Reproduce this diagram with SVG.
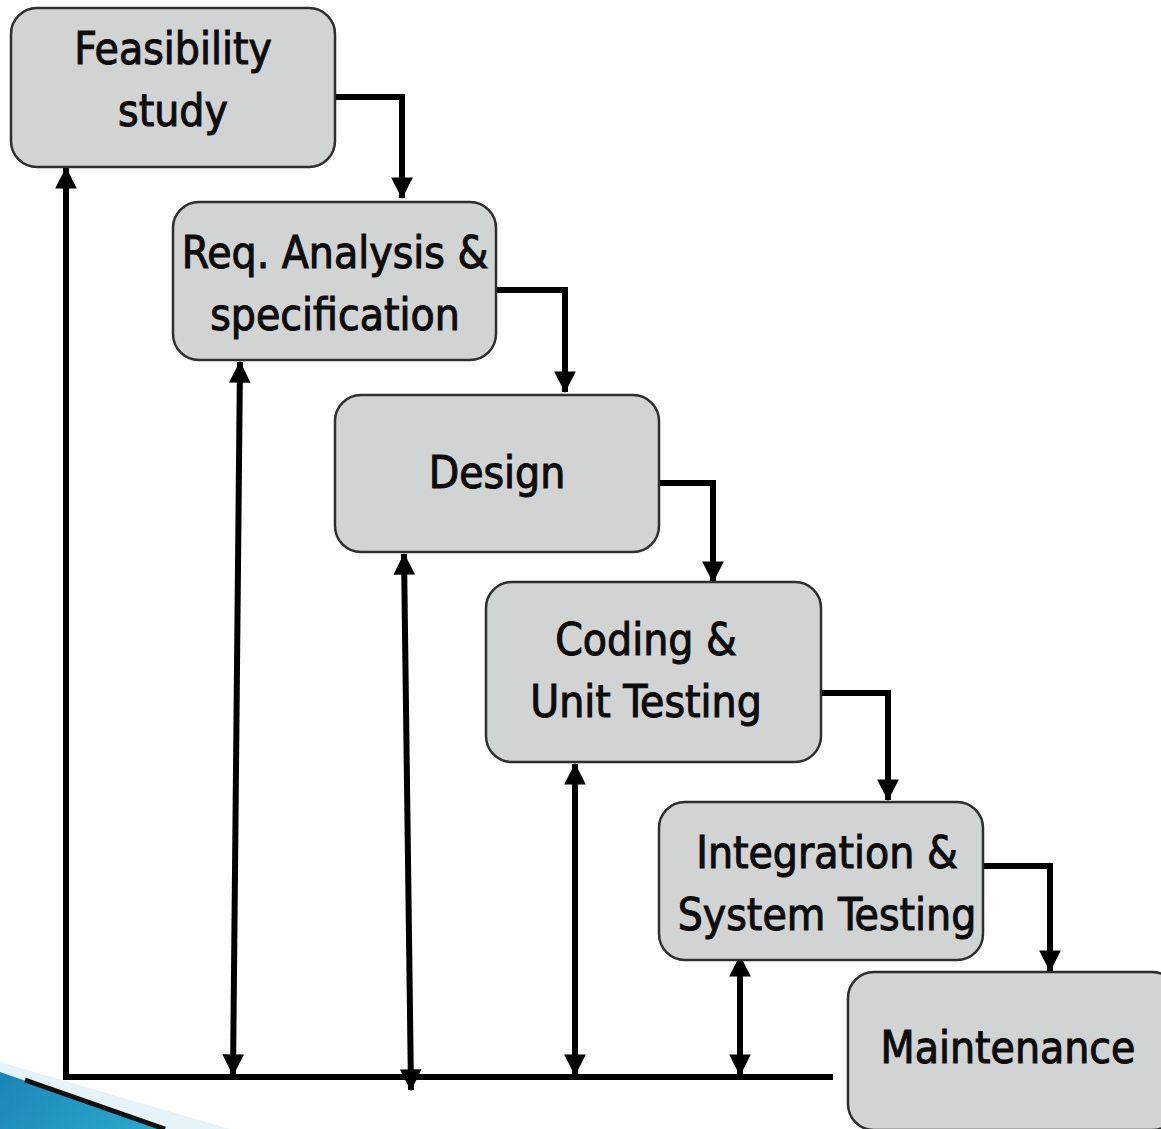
<svg xmlns="http://www.w3.org/2000/svg" width="1161" height="1129" viewBox="0 0 1161 1129">
  <style>
    .box { fill: #d2d3d3; stroke: #2e2e2e; stroke-width: 2.5; }
    .lbl { font-family: "DejaVu Sans Condensed", "DejaVu Sans", sans-serif; font-size: 44px; fill: #0c0c0c; stroke: #0c0c0c; stroke-width: 1; text-anchor: middle; }
    .wire { fill: none; stroke: #000; stroke-width: 6; stroke-linejoin: miter; }
  </style>
  <defs>
    <marker id="head" viewBox="0 0 10 10" refX="9.5" refY="5" markerWidth="4.6" markerHeight="3.6" orient="auto-start-reverse" markerUnits="strokeWidth">
      <path d="M0,0 L10,5 L0,10 Z" fill="#000"/>
    </marker>
    <linearGradient id="wedge" x1="0" y1="0" x2="1" y2="0.3">
      <stop offset="0" stop-color="#1b86b8"/>
      <stop offset="1" stop-color="#2aa3c8"/>
    </linearGradient>
  </defs>

  <rect width="1161" height="1129" fill="#fff"/>

  <!-- corner ribbon -->
  <g id="ribbon">
    <polygon points="0,1062 230,1129 150,1129 0,1078" fill="#dbeef6" opacity="0.7"/>
    <polygon points="0,1072 165,1129 0,1129" fill="url(#wedge)"/>
    <line x1="25" y1="1080" x2="165" y2="1129" stroke="#111" stroke-width="5"/>
  </g>

  <g id="connectors">
    <!-- forward flow -->
    <polyline class="wire" points="335,97 402,97 402,198" marker-end="url(#head)"/>
    <polyline class="wire" points="496,290 565,290 565,392" marker-end="url(#head)"/>
    <polyline class="wire" points="648,483 713,483 713,582" marker-end="url(#head)"/>
    <polyline class="wire" points="821,693 888,693 888,800" marker-end="url(#head)"/>
    <polyline class="wire" points="983,866 1050,866 1050,971" marker-end="url(#head)"/>
    <!-- feedback bus -->
    <polyline class="wire" points="833,1077 66,1077 66,168" marker-end="url(#head)"/>
    <line class="wire" x1="233" y1="1075" x2="240" y2="362" marker-start="url(#head)" marker-end="url(#head)"/>
    <line class="wire" x1="411" y1="1090" x2="404" y2="554" marker-start="url(#head)" marker-end="url(#head)"/>
    <line class="wire" x1="575" y1="1075" x2="575" y2="764" marker-start="url(#head)" marker-end="url(#head)"/>
    <line class="wire" x1="740" y1="1075" x2="740" y2="956" marker-start="url(#head)" marker-end="url(#head)"/>
  </g>

  <g id="feasibility">
    <rect class="box" x="11" y="8" width="324" height="159" rx="26"/>
    <text class="lbl" x="173" y="64">Feasibility</text>
    <text class="lbl" x="173" y="126">study</text>
  </g>
  <g id="requirements">
    <rect class="box" x="173" y="202" width="323" height="158" rx="26"/>
    <text class="lbl" x="335" y="268">Req. Analysis &amp;</text>
    <text class="lbl" x="335" y="330">specification</text>
  </g>
  <g id="design">
    <rect class="box" x="335" y="395" width="324" height="157" rx="26"/>
    <text class="lbl" x="497" y="488">Design</text>
  </g>
  <g id="coding">
    <rect class="box" x="486" y="582" width="335" height="180" rx="26"/>
    <text class="lbl" x="646" y="655">Coding &amp;</text>
    <text class="lbl" x="646" y="717">Unit Testing</text>
  </g>
  <g id="integration">
    <rect class="box" x="659" y="802" width="324" height="158" rx="26"/>
    <text class="lbl" x="827" y="868">Integration &amp;</text>
    <text class="lbl" x="827" y="930">System Testing</text>
  </g>
  <g id="maintenance">
    <rect class="box" x="848" y="972" width="330" height="158" rx="26"/>
    <text class="lbl" x="1008" y="1063">Maintenance</text>
  </g>
</svg>
